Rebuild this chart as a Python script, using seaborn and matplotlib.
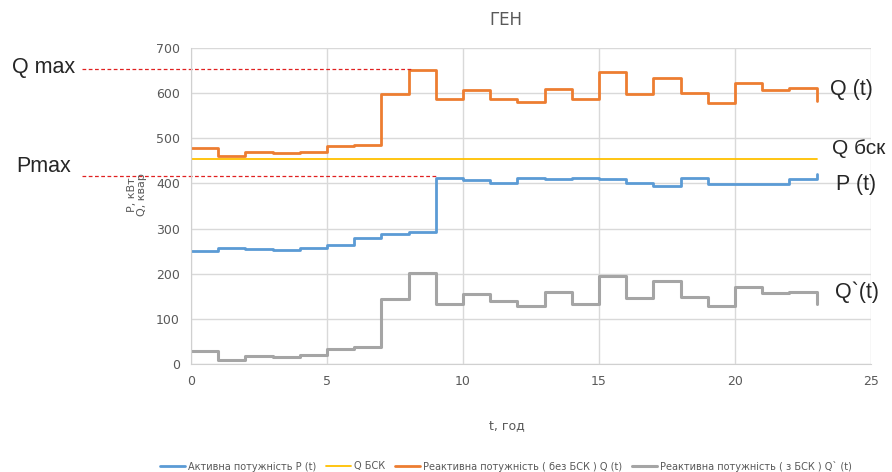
import numpy as np
import pandas as pd
import seaborn as sns
import matplotlib.pyplot as plt

# Дані (погодинні значення)
hours = list(range(24))
p_active = [250, 256, 254, 252, 258, 263, 280, 289, 292, 413, 407, 402, 413, 409,
            411, 409, 402, 395, 411, 399, 399, 399, 409, 420]
q_react = [478, 460, 470, 467, 470, 483, 486, 597, 651, 586, 607, 588, 580, 609,
           586, 646, 597, 633, 600, 579, 623, 607, 612, 583]
q_comp = [29, 8, 18, 16, 19, 34, 37, 145, 202, 134, 155, 139, 128, 160,
          134, 195, 147, 183, 148, 128, 171, 157, 160, 132]
q_bsk_hours = [0, 23]
q_bsk = [454, 454]

labels = ['Активна потужність P (t)', 'Q БСК',
          'Реактивна потужність ( без БСК ) Q (t)',
          'Реактивна потужність ( з БСК ) Q` (t)']
colors = ['#5B9BD5', '#FFC000', '#ED7D31', '#A5A5A5']

df = pd.DataFrame({'t': hours, 'P': p_active, 'Q': q_react, 'Qc': q_comp})
df_bsk = pd.DataFrame({'t': q_bsk_hours, 'Q': q_bsk})

sns.set_style('white')
arial = ['Liberation Sans', 'DejaVu Sans']
plt.rcParams['font.family'] = ['DejaVu Sans']

fig = plt.figure(figsize=(8.92, 4.72), dpi=100)
ax = fig.add_axes([191 / 892, 1 - 364 / 472, 680 / 892, 316 / 472])

sns.lineplot(data=df, x='t', y='P', ax=ax, color=colors[0], lw=2,
             drawstyle='steps-post', label=labels[0])
sns.lineplot(data=df_bsk, x='t', y='Q', ax=ax, color=colors[1], lw=1.3,
             label=labels[1])
sns.lineplot(data=df, x='t', y='Q', ax=ax, color=colors[2], lw=2,
             drawstyle='steps-post', label=labels[2])
sns.lineplot(data=df, x='t', y='Qc', ax=ax, color=colors[3], lw=2.2,
             drawstyle='steps-post', label=labels[3])

ax.set_xlim(0, 25)
ax.set_ylim(0, 700)
ax.set_xticks(range(0, 26, 5))
ax.set_yticks(range(0, 701, 100))
ax.grid(True, color='#D9D9D9', lw=1)
for s in ['top', 'right']:
    ax.spines[s].set_visible(False)
for s in ['left', 'bottom']:
    ax.spines[s].set_color('#D0D0D0')
ax.tick_params(length=0, labelsize=9, labelcolor='#595959', pad=8)
ax.set_xlabel('')
ax.set_ylabel('')

ax.legend_.remove()
h, l = ax.get_legend_handles_labels()
fig.legend(h, l, loc='center', bbox_to_anchor=(506 / 892, 1 - 466 / 472),
           ncol=4, frameon=False, fontsize=7, handlelength=2.6,
           handletextpad=0.3, columnspacing=1.0, labelcolor='#595959')

fig.text(506 / 892, 1 - 20 / 472, 'ГЕН', ha='center', va='center',
         fontsize=12, color='#595959')
fig.text(507 / 892, 1 - 426 / 472, 't, год', ha='center', va='center',
         fontsize=9, color='#595959')
fig.text(137 / 892, 1 - 195 / 472, 'P, кВт\nQ, квар', rotation=90,
         ha='center', va='center', fontsize=8, color='#595959',
         multialignment='center', linespacing=1.1)

# Пунктирні позначки максимумів
qmax = max(q_react)
pmax = max(p_active[:23])
ax.plot([-4.0, 8.1], [qmax + 3, qmax + 3], ls=(0, (3, 2)), color='#E02020',
        lw=0.9, clip_on=False)
ax.plot([-4.0, 9.05], [pmax + 3, pmax + 3], ls=(0, (3, 2)), color='#E02020',
        lw=0.9, clip_on=False)

fig.text(12 / 892, 1 - 68 / 472, 'Q max', ha='left', va='center',
         fontsize=15.5, family=arial)
fig.text(16 / 892, 1 - 166 / 472, 'Pmax', ha='left', va='center',
         fontsize=15.5, family=arial)
fig.text(830 / 892, 1 - 89 / 472, 'Q (t)', ha='left', va='center',
         fontsize=15.5, family=arial)
fig.text(832 / 892, 1 - 148 / 472, 'Q бск', ha='left', va='center',
         fontsize=15, family=arial)
fig.text(836 / 892, 1 - 184 / 472, 'P (t)', ha='left', va='center',
         fontsize=15.5, family=arial)
fig.text(835 / 892, 1 - 292 / 472, 'Q`(t)', ha='left', va='center',
         fontsize=15.5, family=arial)

fig.savefig('out.png', dpi=100, facecolor='white')
